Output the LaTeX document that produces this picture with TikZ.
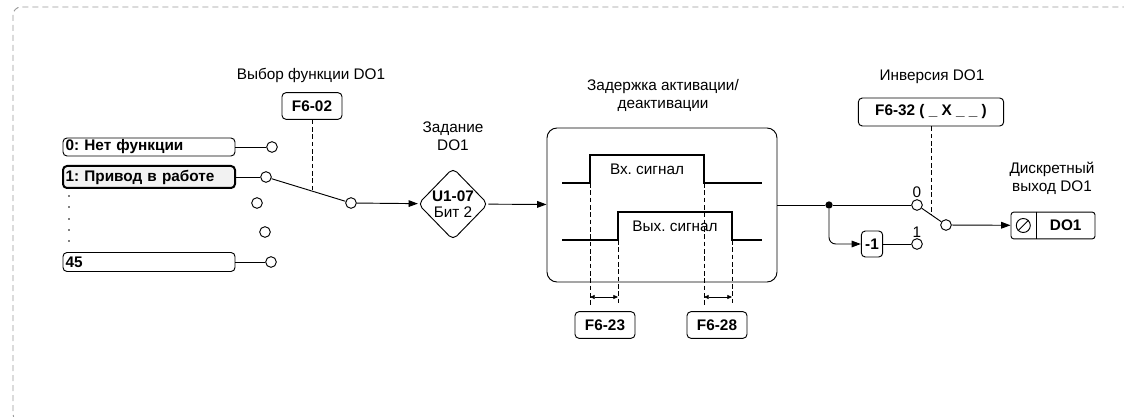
\documentclass[tikz,border=0pt]{standalone}
\usepackage{fontspec}
\setmainfont{Liberation Sans}
\usetikzlibrary{arrows.meta,positioning,shapes.geometric,calc}
\frenchspacing

\begin{document}
\begin{tikzpicture}[
    x=0.75pt, y=-0.75pt,
    font=\fontsize{11.5}{13.5}\selectfont,
    line width=0.7pt,
    optbox/.style={draw, rounded corners=3pt, minimum height=13.5pt, text width=125pt, inner xsep=2pt, inner ysep=0pt, align=left, font=\fontsize{11.5}{13.5}\selectfont\bfseries},
    paramb/.style={draw, rounded corners=3pt, minimum height=20pt, minimum width=45pt, inner sep=1pt, font=\fontsize{11.5}{13.5}\selectfont\bfseries},
    contact/.style={circle, draw, fill=white, minimum size=8pt, inner sep=0pt},
    arrow/.style={-{Triangle[length=7pt,width=5pt]}},
    sigline/.style={line width=1.4pt},
    guide/.style={dash pattern=on 3.5pt off 2pt, line width=0.5pt},
    lbl/.style={align=center},
]

% canvas and dashed frame
\useasboundingbox (0,0) rectangle (1124,417);
\begin{scope}
  \clip (0,0) rectangle (1124,417);
  \draw[black!40, dash pattern=on 4.5pt off 3pt, rounded corners=6pt] (13,7) rectangle (1140,422);
\end{scope}

% Function selector DO1
\node[optbox] (opt0) at (149,147) {0: Нет функции};
\node[optbox, line width=1.5pt, fill=gray!10, minimum height=16.5pt] (opt1) at (149,177) {1: Привод в работе};
\node[optbox, minimum height=14.25pt] (opt45) at (149,262) {45};
\foreach \y in {196,207,219,230,241}
  \fill (69,\y) circle (0.7pt);

\node[contact] (c0) at (272,147) {};
\node[contact] (c1) at (266,177) {};
\node[contact] (c2) at (257,203) {};
\node[contact] (c3) at (265,232) {};
\node[contact] (c45) at (271,262) {};
\node[contact] (sel) at (351,203) {};

\node[paramb] (f602) at (312,106) {F6-02};
\node (selttl) at (311,75) {Выбор функции DO1};

\draw (opt0) -- (c0);
\draw (opt1) -- (c1);
\draw (opt45) -- (c45);
\draw (c1) -- (sel);
\coordinate (selmid) at ($(c1)!0.54!(sel)$);
\draw[guide] (f602.south) -- (f602.south |- selmid);

% DO1 bit
\node[diamond, draw, rounded corners=4pt, minimum width=52.5pt, minimum height=54pt, inner sep=0pt,
      label={[lbl]center:{\textbf{U1-07}\\[-2pt]Бит 2}}] (bit) at (453,204) {};
\node[lbl] (bitttl) at (453,136) {Задание\\DO1};
\draw[arrow] (sel) -- (bit);

% On/off delay
\node[draw, rounded corners=7.5pt, minimum width=172.5pt, minimum height=115.5pt] (delay) at (662,205) {};
\node[lbl] (delayttl) at (663,95) {Задержка активации/\\деактивации};
\draw[arrow] (bit) -- (delay);

\draw[sigline] (562,183) -- (590,183) -- (590,155) -- (704,155) -- (704,183) -- (762,183);
\draw[sigline] (562,240) -- (618,240) -- (618,212) -- (732,212) -- (732,240) -- (762,240);
\node (insig) at (647,169) {Вх. сигнал};
\node (outsig) at (675,226) {Вых. сигнал};

\foreach \x/\y in {590/183, 618/240, 704/183, 732/240}
  \draw[guide] (\x,\y) -- (\x,305);
\draw[{Triangle[length=3.5pt,width=3pt]}-{Triangle[length=3.5pt,width=3pt]}, line width=0.5pt] (590,297) -- (618,297);
\draw[{Triangle[length=3.5pt,width=3pt]}-{Triangle[length=3.5pt,width=3pt]}, line width=0.5pt] (704,297) -- (732,297);

\node[paramb] (f623) at (605,325) {F6-23};
\node[paramb] (f628) at (717,325) {F6-28};

% Inversion DO1
\node[circle, fill, inner sep=0pt, minimum size=5.5pt] (jn) at (829,205) {};
\node[contact] (i0) at (917,205) {};
\node[contact] (i1) at (917,244) {};
\node[paramb, minimum width=16pt, minimum height=19.5pt] (neg) at (872,244) {-1};
\node[contact] (inv) at (946,225) {};
\node[inner sep=0.5pt, above=0pt of i0] (i0lbl) {0};
\node[inner sep=0.5pt, above=0pt of i1] (i1lbl) {1};

\draw (delay.east) -- (jn) -- (i0);
\draw[arrow, rounded corners=5pt] (jn) |- (neg.west);
\draw (neg) -- (i1);
\draw (i0) -- (inv);

\node (invttl) at (932,77) {Инверсия DO1};
\node[paramb, minimum width=109pt, minimum height=21pt] (f632) at (931,112) {F6-32 ( \_ X \_ \_ )};
\coordinate (invmid) at ($(i0)!0.52!(inv)$);
\draw[guide] (f632.south) -- (f632.south |- invmid);

% Digital output DO1
\node[draw, rounded corners=2pt, minimum width=63pt, minimum height=20pt] (do1) at (1053,225.5) {};
\draw ($(do1.north west)!0.3!(do1.north east)$) -- ($(do1.south west)!0.3!(do1.south east)$);
\node[circle, draw, minimum size=10.5pt, inner sep=0pt] (gnd) at ($(do1.west)!0.15!(do1.east)$) {};
\draw (gnd.south west) -- (gnd.north east);
\node[font=\fontsize{11.5}{13.5}\selectfont\bfseries] (do1txt) at ($(do1.west)!0.65!(do1.east)$) {DO1};
\node[lbl] (outttl) at (1052,178) {Дискретный\\выход DO1};
\draw[arrow] (inv) -- (do1);

\end{tikzpicture}
\end{document}
